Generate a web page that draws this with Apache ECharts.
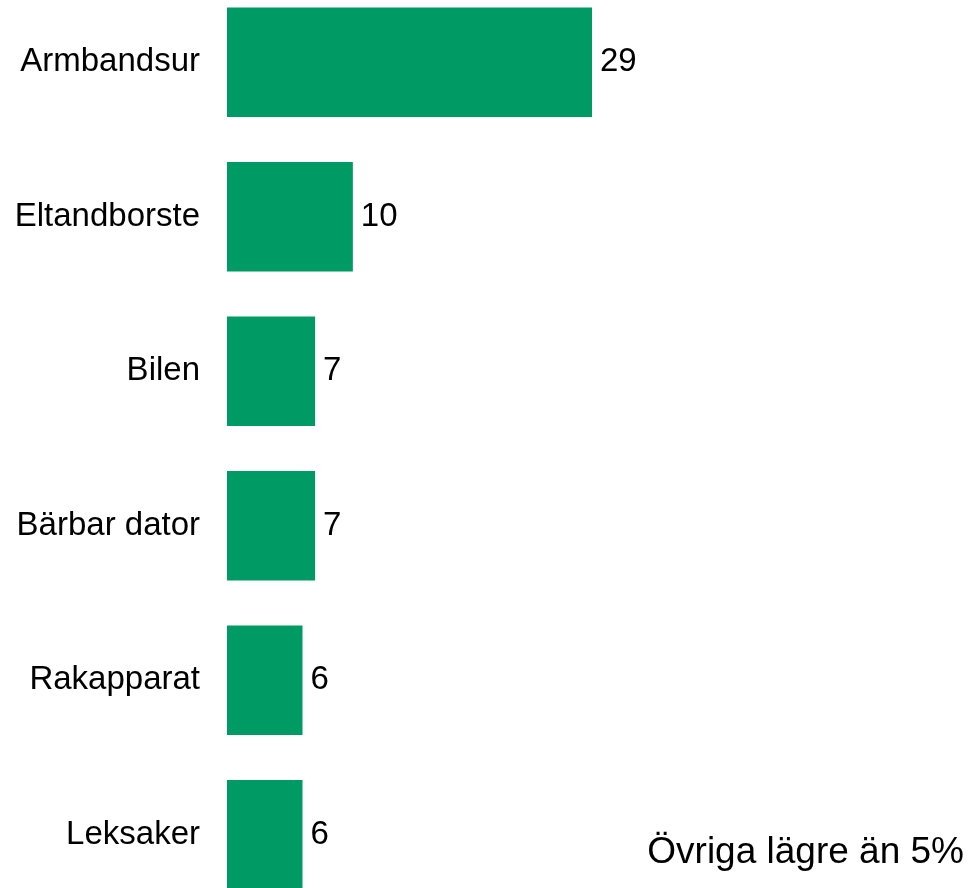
<!DOCTYPE html>
<html>
<head>
<meta charset="utf-8">
<script src="https://cdn.jsdelivr.net/npm/echarts@6/dist/echarts.min.js"></script>
<style>
  html, body { margin: 0; padding: 0; background: #fff; overflow: hidden; }
  /* the plot runs a bit past the top and bottom edge of the window */
  #chart { position: absolute; left: 0; top: -15px; width: 970px; height: 927px; }
</style>
</head>
<body>
<div id="chart"></div>
<script>
// data
var categories = ["Armbandsur", "Eltandborste", "Bilen", "Bärbar dator", "Rakapparat", "Leksaker"];
var values = [29, 10, 7, 7, 6, 6];
var note = "Övriga lägre än 5%";

var font = "'Liberation Sans', Arial, sans-serif";
var chart = echarts.init(document.getElementById("chart"));

chart.setOption({
  animation: false,
  backgroundColor: "#fff",
  grid: {
    left: 227,
    right: 378,
    top: 0,
    bottom: 0
  },
  xAxis: {
    type: "value",
    min: 0,
    max: 29,
    show: false
  },
  yAxis: {
    type: "category",
    inverse: true,
    data: categories,
    axisLine: { show: false },
    axisTick: { show: false },
    axisLabel: {
      margin: 27,
      color: "#000",
      fontSize: 33,
      fontFamily: font,
      padding: [4, 0, 0, 0]
    }
  },
  series: [
    {
      type: "bar",
      data: values,
      barCategoryGap: "29%",
      itemStyle: { color: "#009B64" },
      label: {
        show: true,
        position: "right",
        distance: 8,
        color: "#000",
        fontSize: 33,
        fontFamily: font,
        padding: [4, 0, 0, 0]
      }
    }
  ],
  graphic: [
    {
      type: "text",
      x: 964,
      y: 868,
      style: {
        text: note,
        fill: "#000",
        font: "37px " + font,
        textAlign: "right",
        textVerticalAlign: "middle"
      }
    }
  ]
});
</script>
</body>
</html>
